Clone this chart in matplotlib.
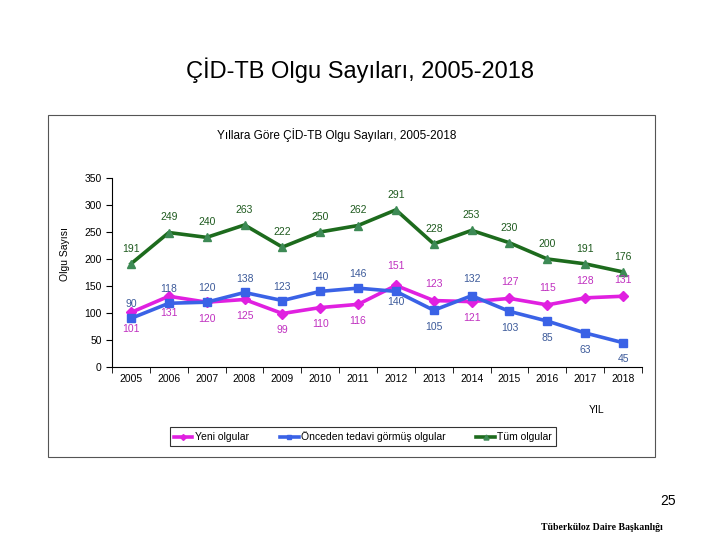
import matplotlib.pyplot as plt
from matplotlib.patches import Rectangle
from matplotlib.ticker import FixedLocator

years = [2005, 2006, 2007, 2008, 2009, 2010, 2011, 2012, 2013, 2014, 2015, 2016, 2017, 2018]
yeni = [101, 131, 120, 125, 99, 110, 116, 151, 123, 121, 127, 115, 128, 131]
onceden = [90, 118, 120, 138, 123, 140, 146, 140, 105, 132, 103, 85, 63, 45]
tum = [191, 249, 240, 263, 222, 250, 262, 291, 228, 253, 230, 200, 191, 176]

plt.rcParams['font.family'] = ['Liberation Sans', 'DejaVu Sans']

fig = plt.figure(figsize=(7.2, 5.4), dpi=100)
fig.patch.set_facecolor('white')

# slide title and footer
fig.text(0.5, 0.87, 'ÇİD-TB Olgu Sayıları, 2005-2018', ha='center', va='center', fontsize=17)
fig.text(0.928, 0.073, '25', ha='center', va='center', fontsize=10)
fig.text(0.836, 0.024, 'Tüberküloz Daire Başkanlığı', ha='center', va='center', fontsize=7,
         family=['Liberation Serif'], weight='bold')

# chart frame
fig.patches.append(Rectangle((0.0667, 0.1537), 0.843, 0.633, transform=fig.transFigure,
                             fill=False, edgecolor='#555555', linewidth=0.8))
fig.text(0.467, 0.75, 'Yıllara Göre ÇİD-TB Olgu Sayıları, 2005-2018', ha='center', va='center', fontsize=8.5)

ax = fig.add_axes([0.1556, 0.3204, 0.736, 0.35])
x = list(range(len(years)))

c_yeni, c_once, c_tum = '#E020E0', '#3A62E6', '#1D6B1D'
ax.plot(x, yeni, color=c_yeni, lw=2.6, marker='D', ms=5, label='Yeni olgular')
ax.plot(x, onceden, color=c_once, lw=2.6, marker='s', ms=6, label='Önceden tedavi görmüş olgular')
ax.plot(x, tum, color=c_tum, lw=2.6, marker='^', ms=6, mfc='#3D8A55', mec='#3D8A55', label='Tüm olgular')

# data labels (offsets in points, as in the original slide)
off_yeni = [-12, -12, -12, -12, -12, -12, -12, 14, 12, -12, 12, 12, 12, 12]
off_once = [10, 10, 10, 10, 10, 10, 10, -8, -12, 12, -12, -12, -12, -12]
for i in x:
    ax.annotate(str(yeni[i]), (i, yeni[i]), xytext=(0, off_yeni[i]), textcoords='offset points',
                ha='center', va='center', fontsize=7.5, color='#C030C0')
    ax.annotate(str(onceden[i]), (i, onceden[i]), xytext=(0, off_once[i]), textcoords='offset points',
                ha='center', va='center', fontsize=7.5, color='#3C5A9A')
    ax.annotate(str(tum[i]), (i, tum[i]), xytext=(0, 11), textcoords='offset points',
                ha='center', va='center', fontsize=7.5, color='#1E5A1E')

ax.set_xlim(-0.5, 13.5)
ax.set_ylim(0, 350)
ax.set_yticks(range(0, 351, 50))
ax.set_xticks(x)
ax.set_xticklabels([str(y) for y in years])
ax.xaxis.set_minor_locator(FixedLocator([i + 0.5 for i in range(-1, 14)]))
ax.tick_params(axis='x', which='major', length=0, labelsize=7.5, pad=5)
ax.tick_params(axis='x', which='minor', length=4, direction='out')
ax.tick_params(axis='y', length=4, labelsize=7.5)
for s in ['top', 'right']:
    ax.spines[s].set_visible(False)
ax.set_ylabel('Olgu Sayısı', fontsize=7.5)
ax.yaxis.set_label_coords(-0.08, 0.6)
ax.set_xlabel('YIL', fontsize=7.5)
ax.xaxis.set_label_coords(0.915, -0.2)

leg = ax.legend(loc='center', bbox_to_anchor=(0.504, 0.191), bbox_transform=fig.transFigure,
                ncol=3, fontsize=7.5, frameon=True, fancybox=False, edgecolor='black',
                handlelength=1.8, handletextpad=0.2, columnspacing=3, markerscale=0.6,
                borderpad=0.4, borderaxespad=0)
leg.get_frame().set_linewidth(0.8)

fig.savefig('out.png', dpi=100)
